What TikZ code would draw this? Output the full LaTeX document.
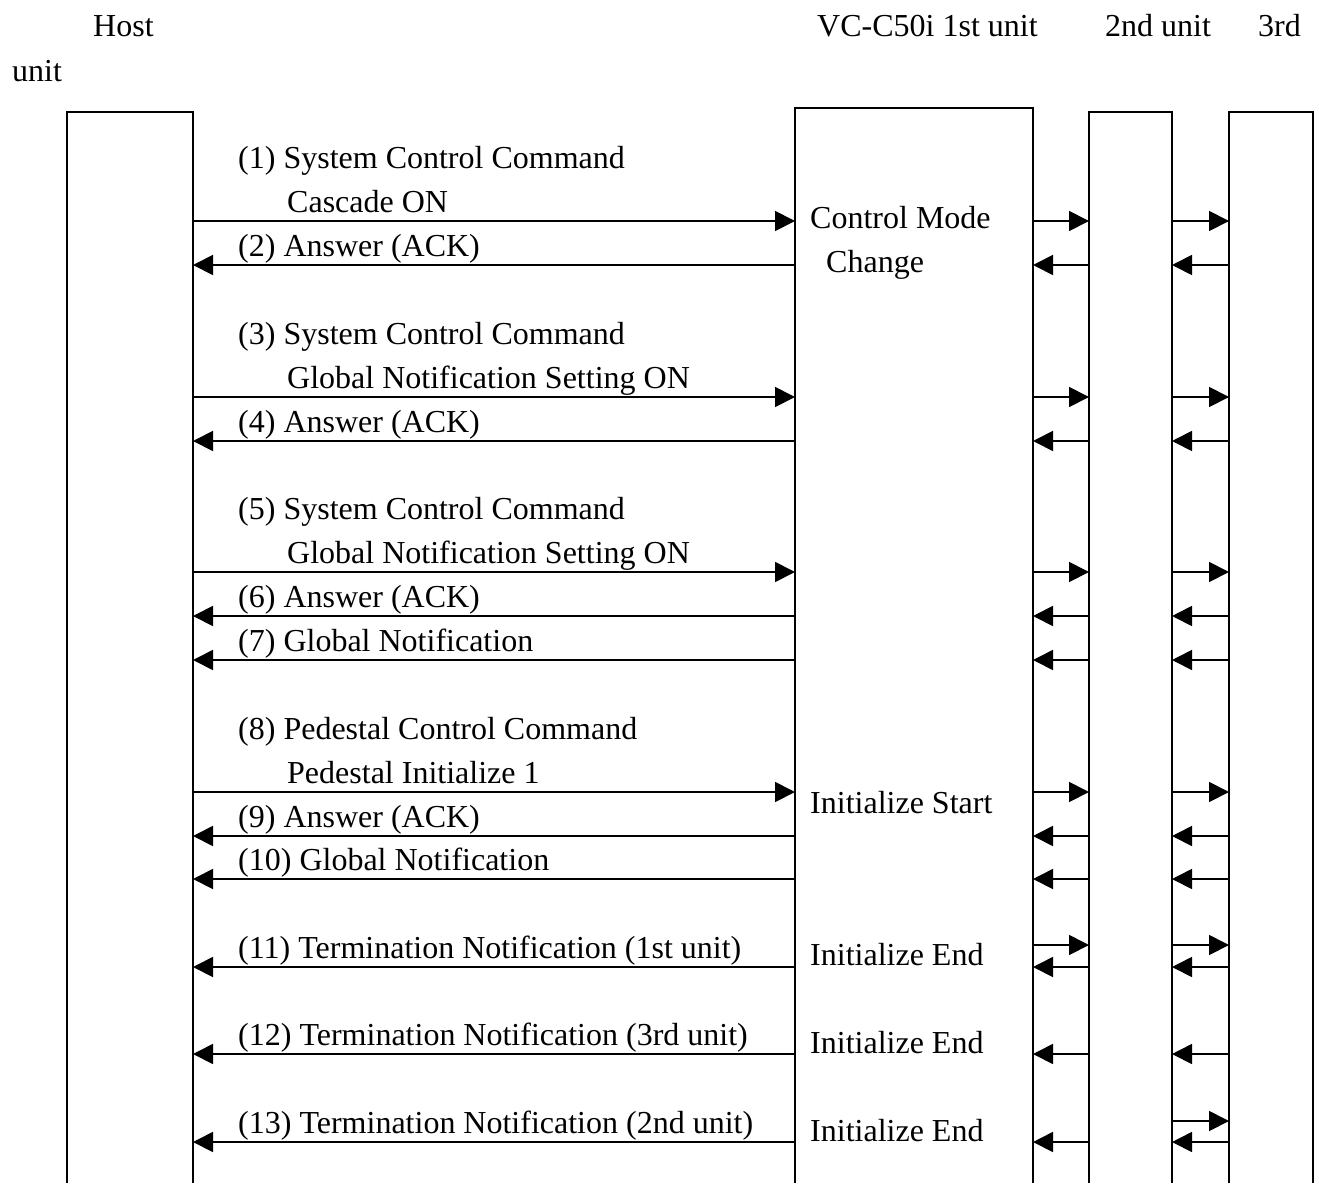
\documentclass[tikz,border=0pt]{standalone}
\usepackage{fontspec}
\setmainfont{Liberation Serif}
\usetikzlibrary{arrows.meta}

\tikzset{
	lane/.style={line width=1.8pt},
	msg/.style={line width=1.8pt, -{Triangle[length=20pt, width=20pt]}},
	txt/.style={anchor=base west, inner sep=0pt, font=\fontsize{32}{44}\selectfont}
}

\begin{document}
\begin{tikzpicture}[x=1pt, y=-1pt]
	
	% ---- Adjustable values ----
	\def\laneBottom{1183}
	\def\labelX{238}
	\def\indentX{287}
	
	\useasboundingbox (0,0) rectangle (1319,\laneBottom);
	
	% ---- Headings ----
	\node[txt] (headHost) at (93,36) {Host};
	\node[txt] (headHostB) at (12,81) {unit};
	\node[txt] (headFirst) at (817,36) {VC-C50i 1st unit};
	\node[txt] (headSecond) at (1105,36) {2nd unit};
	\node[txt] (headThird) at (1258,36) {3rd};
	
	% ---- Lanes (open at the bottom) ----
	\foreach \name/\xl/\xr/\top in {
		host/67/193/112,
		first/795/1033/108,
		second/1089/1172/112,
		third/1229/1313/112
	}
	{
		\draw[lane] (\xl,\laneBottom) |- (\xr,\top) -- (\xr,\laneBottom);
		\coordinate (\name L) at (\xl,0);
		\coordinate (\name R) at (\xr,0);
	}
	
	% ---- Host -> 1st unit ----
	\foreach \y in {221,397,572,792}
	\draw[msg] (hostR |- 0,\y) -- (firstL |- 0,\y);
	
	% ---- 1st unit -> Host ----
	\foreach \y in {265,441,616,660,836,879,967,1054,1142}
	\draw[msg] (firstL |- 0,\y) -- (hostR |- 0,\y);
	
	% ---- Relay to 2nd and 3rd unit ----
	\foreach \y in {221,397,572,792,945}
	{
		\draw[msg] (firstR |- 0,\y) -- (secondL |- 0,\y);
		\draw[msg] (secondR |- 0,\y) -- (thirdL |- 0,\y);
	}
	\draw[msg] (secondR |- 0,1121) -- (thirdL |- 0,1121);
	
	% ---- Replies from 2nd and 3rd unit ----
	\foreach \y in {265,441,616,660,836,879,967,1054,1142}
	{
		\draw[msg] (secondL |- 0,\y) -- (firstR |- 0,\y);
		\draw[msg] (thirdL |- 0,\y) -- (secondR |- 0,\y);
	}
	
	% ---- Message labels ----
	\foreach \name/\x/\y/\label in {
		m1a/\labelX/168/{(1) System Control Command},
		m1b/\indentX/212/{Cascade ON},
		m2/\labelX/256/{(2) Answer (ACK)},
		m3a/\labelX/344/{(3) System Control Command},
		m3b/\indentX/388/{Global Notification Setting ON},
		m4/\labelX/432/{(4) Answer (ACK)},
		m5a/\labelX/519/{(5) System Control Command},
		m5b/\indentX/563/{Global Notification Setting ON},
		m6/\labelX/607/{(6) Answer (ACK)},
		m7/\labelX/651/{(7) Global Notification},
		m8a/\labelX/739/{(8) Pedestal Control Command},
		m8b/\indentX/783/{Pedestal Initialize 1},
		m9/\labelX/827/{(9) Answer (ACK)},
		m10/\labelX/870/{(10) Global Notification},
		m11/\labelX/958/{(11) Termination Notification (1st unit)},
		m12/\labelX/1045/{(12) Termination Notification (3rd unit)},
		m13/\labelX/1133/{(13) Termination Notification (2nd unit)}
	}
	{
		\node[txt] (\name) at (\x,\y) {\label};
	}
	
	% ---- States of the 1st unit ----
	\node[txt] (stateMode) at (810,228) {Control Mode};
	\node[txt] (stateModeB) at (826,272) {Change};
	\node[txt] (stateStart) at (810,813) {Initialize Start};
	\node[txt] (stateEndA) at (810,965) {Initialize End};
	\node[txt] (stateEndB) at (810,1053) {Initialize End};
	\node[txt] (stateEndC) at (810,1141) {Initialize End};
	
\end{tikzpicture}
\end{document}
